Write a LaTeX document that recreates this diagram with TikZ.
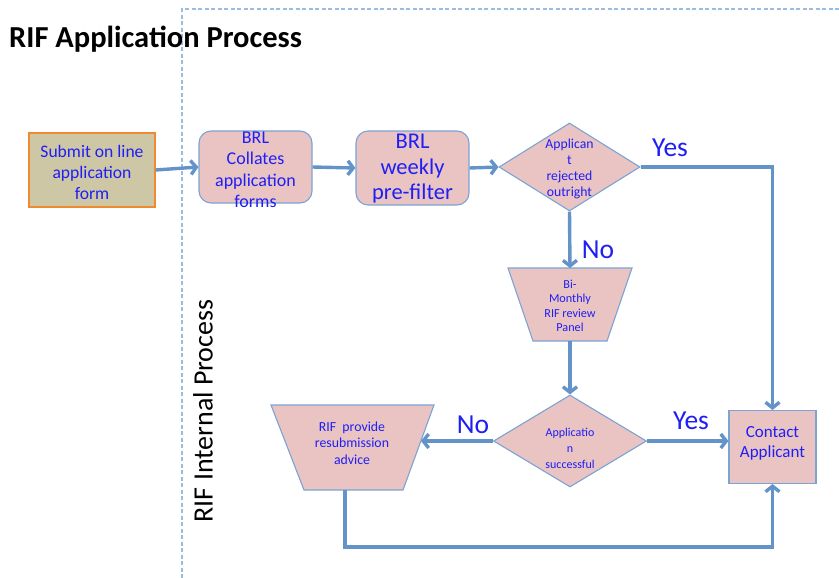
\documentclass[tikz,border=0pt]{standalone}
\usepackage{fontspec}
\setmainfont{Carlito}
\usetikzlibrary{shapes.geometric,arrows.meta}
\definecolor{lineblue}{HTML}{6393C9}
\definecolor{edgeblue}{HTML}{7BA3D4}
\definecolor{pinkfill}{HTML}{E9C4C3}
\definecolor{txtblue}{HTML}{1E1EF5}
\definecolor{tanfill}{HTML}{CEC7A6}
\definecolor{orangeb}{HTML}{EF8A2E}
\definecolor{dashblue}{HTML}{9ABCDD}
\tikzset{
  shapebox/.style={draw=edgeblue, fill=pinkfill, line width=1.1pt},
  roundbox/.style={shapebox, rectangle, rounded corners=12pt, inner sep=0pt},
  diabox/.style={shapebox, diamond, inner sep=0pt},
  txt/.style={text=txtblue, align=center, inner sep=0pt},
  arr/.style={draw=lineblue, line width=3.4pt, -{Straight Barb[length=5.5pt,width=14pt]}},
  lbl/.style={text=txtblue, font=\fontsize{27.5}{30}\selectfont, inner sep=0pt},
}
\begin{document}
\begin{tikzpicture}[x=1pt,y=-1pt]
\useasboundingbox (0,0) rectangle (839,578);
% swimlane
\draw[dashblue, line width=1.2pt, dash pattern=on 4pt off 2.5pt] (839,9) -- (182,9) -- (182,578);
\node[anchor=west, font=\bfseries\fontsize{30.5}{33}\selectfont, inner sep=0pt] (title) at (9,39) {RIF Application Process};
\node[rotate=90, font=\fontsize{28}{30}\selectfont, inner sep=0pt] (lane) at (203,411) {RIF Internal Process};

% submit
\node[draw=orangeb, fill=tanfill, line width=1.3pt, minimum width=126pt, minimum height=74pt, inner sep=0pt] (sub) at (92,170) {};
\node[txt, font=\fontsize{17.6}{21}\selectfont] (subt) at (92,172) {Submit on line\\application\\form};

% BRL collates
\node[roundbox, minimum width=113pt, minimum height=72pt] (brl) at (255.5,167) {};
\node[txt, font=\fontsize{18}{21.5}\selectfont] (brlt) at (255.5,170) {BRL\\Collates\\application\\forms};

% weekly
\node[roundbox, minimum width=113pt, minimum height=74pt] (wk) at (412.5,168) {};
\node[txt, font=\fontsize{22.5}{25.5}\selectfont] (wkt) at (412.5,169) {BRL\\weekly\\pre-filter};

% diamond 1
\node[diabox, minimum width=141pt, minimum height=88pt] (d1) at (569.5,167) {};
\node[txt, font=\fontsize{13.7}{16}\selectfont] (d1t) at (569.5,169) {Applican\\t\\rejected\\outright};

% trapezoid 1
\coordinate (tp1top) at (570,268);
\coordinate (tp1bot) at (570,341);
\draw[shapebox] (508,268) -- (632,268) -- (607,341) -- (533,341) -- cycle;
\node[txt, font=\fontsize{12.2}{14.5}\selectfont] (tp1) at (570,306) {Bi-\\Monthly\\RIF review\\Panel};

% diamond 2
\node[diabox, minimum width=153pt, minimum height=92pt] (d2) at (570,441) {};
\node[txt, font=\fontsize{12}{16}\selectfont] (d2t) at (570,448) {Applicatio\\n\\successful};

% trapezoid 2
\coordinate (tp2r) at (421,441);
\coordinate (tp2bot) at (345,490);
\draw[shapebox] (271,405) -- (434,405) -- (403,490) -- (304,490) -- cycle;
\node[txt, font=\fontsize{13.8}{16.5}\selectfont] (tp2) at (352,443) {RIF\ \ provide\\resubmission\\advice};

% contact
\node[shapebox, rectangle, minimum width=87pt, minimum height=73pt, inner sep=0pt] (ca) at (772.5,447) {};
\node[txt, font=\fontsize{17}{20}\selectfont] (cat) at (772.5,443) {Contact\\Applicant};

% connectors
\draw[arr] (sub.east) -- (brl.west);
\draw[arr] (brl.east) -- (wk.west);
\draw[arr] (wk.east) -- (d1.west);
\draw[arr] (d1.east) -| (ca.north);
\draw[arr] (d1.south) -- (tp1top);
\draw[arr] (tp1bot) -- (d2.north);
\draw[arr] (d2.west) -- (tp2r);
\draw[arr] (d2.east) -- (d2.east -| ca.west);
\draw[arr] (tp2bot) |- (600,547) -| (ca.south);

% labels
\node[lbl] (yes1) at (670,148) {Yes};
\node[lbl] (no1) at (598,250) {No};
\node[lbl] (no2) at (473,425) {No};
\node[lbl] (yes2) at (691,421) {Yes};
\end{tikzpicture}
\end{document}
